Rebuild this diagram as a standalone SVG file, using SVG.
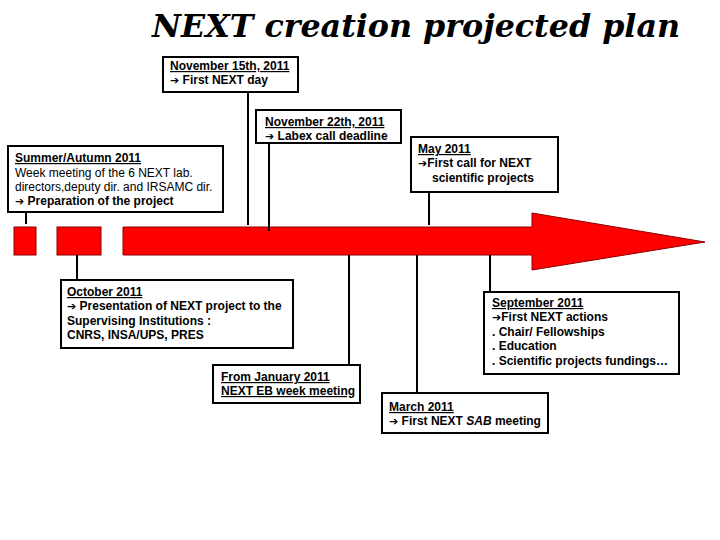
<svg xmlns="http://www.w3.org/2000/svg" width="720" height="540" viewBox="0 0 720 540">
<style>
.box{fill:#fff;stroke:#000;stroke-width:2}
.t{font-family:"Liberation Sans",Arial,sans-serif;font-size:12px;font-weight:bold;fill:#000}
.n{font-weight:normal}
.u{text-decoration:underline}
.a{font-family:"DejaVu Sans",sans-serif;font-size:11px;font-weight:bold;font-style:normal}
.c line{stroke:#000;stroke-width:2}
.red{fill:#ff0000;stroke:#8b0000;stroke-width:1}
</style>
<rect width="720" height="540" fill="#fff"/>
<text x="152" y="37" font-family="'DejaVu Serif','Liberation Serif',serif" font-style="italic" font-weight="bold" font-size="32" textLength="528" lengthAdjust="spacingAndGlyphs">NEXT creation projected plan</text>
<g id="timeline">
<rect class="red" x="14" y="227" width="22" height="28"/>
<rect class="red" x="57" y="227" width="44" height="28"/>
<polygon class="red" points="123,227 532,227 532,213 705,242 532,270 532,255 123,255"/>
</g>
<g id="connectors" class="c">
<line x1="248" y1="92" x2="248" y2="225"/>
<line x1="269" y1="143" x2="269" y2="231"/>
<line x1="429" y1="192" x2="429" y2="225"/>
<line x1="26" y1="212" x2="26" y2="224"/>
<line x1="77" y1="255" x2="77" y2="280"/>
<line x1="349" y1="255" x2="349" y2="365"/>
<line x1="417" y1="255" x2="417" y2="393"/>
<line x1="490" y1="255" x2="490" y2="292"/>
</g>
<g id="nov15">
<rect class="box" x="163" y="57" width="135" height="35"/>
<text class="t" x="170" y="70"><tspan class="u">November 15th, 2011</tspan></text>
<text class="t" x="170" y="84"><tspan class="a">➔</tspan> First NEXT day</text>
</g>
<g id="nov22">
<rect class="box" x="256" y="110" width="145" height="33"/>
<text class="t" x="265" y="126"><tspan class="u">November 22th, 2011</tspan></text>
<text class="t" x="265" y="140"><tspan class="a">➔</tspan> Labex call deadline</text>
</g>
<g id="summer">
<rect class="box" x="8" y="146" width="215" height="66"/>
<text class="t" x="15" y="162"><tspan class="u">Summer/Autumn 2011</tspan></text>
<text class="t n" x="15" y="177">Week meeting of the 6 NEXT lab.</text>
<text class="t n" x="15" y="191">directors,deputy dir. and IRSAMC dir.</text>
<text class="t" x="15" y="205"><tspan class="a">➔</tspan> Preparation of the project</text>
</g>
<g id="may">
<rect class="box" x="411" y="137" width="147" height="55"/>
<text class="t" x="418" y="153"><tspan class="u">May 2011</tspan></text>
<text class="t" x="418" y="167"><tspan class="a">➔</tspan>First call for NEXT</text>
<text class="t" x="432" y="182">scientific projects</text>
</g>
<g id="october">
<rect class="box" x="61" y="280" width="232" height="68"/>
<text class="t" x="67" y="296"><tspan class="u">October 2011</tspan></text>
<text class="t" x="67" y="310"><tspan class="a">➔</tspan> Presentation of NEXT project to the</text>
<text class="t" x="67" y="325">Supervising Institutions :</text>
<text class="t" x="67" y="339">CNRS, INSA/UPS, PRES</text>
</g>
<g id="january">
<rect class="box" x="213" y="365" width="147" height="38"/>
<text class="t u" x="221" y="381">From January 2011</text>
<text class="t u" x="221" y="395">NEXT EB week meeting</text>
</g>
<g id="march">
<rect class="box" x="382" y="393" width="166" height="40"/>
<text class="t" x="389" y="411"><tspan class="u">March 2011</tspan></text>
<text class="t" x="389" y="425"><tspan class="a">➔</tspan> First NEXT <tspan font-style="italic">SAB</tspan> meeting</text>
</g>
<g id="september">
<rect class="box" x="484" y="292" width="195" height="82"/>
<text class="t" x="492" y="307"><tspan class="u">September 2011</tspan></text>
<text class="t" x="492" y="321"><tspan class="a">➔</tspan>First NEXT actions</text>
<text class="t" x="492" y="336">. Chair/ Fellowships</text>
<text class="t" x="492" y="350">. Education</text>
<text class="t" x="492" y="365">. Scientific projects fundings…</text>
</g>
</svg>
